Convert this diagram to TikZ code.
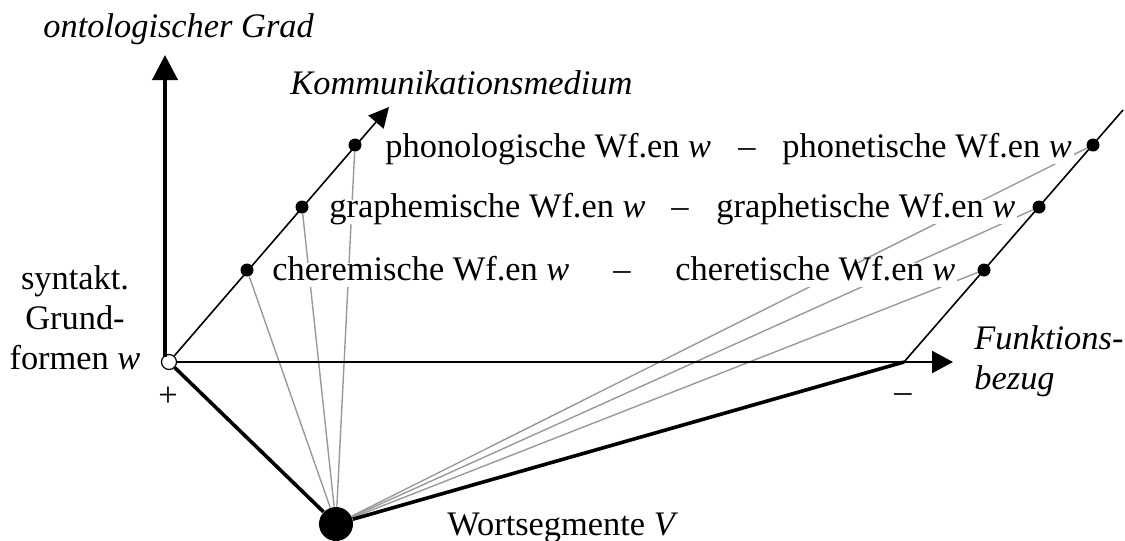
\documentclass[tikz,border=0pt]{standalone}
\usepackage{fontspec}
\setmainfont{Liberation Serif}
\usetikzlibrary{arrows.meta}
\begin{document}
\begin{tikzpicture}[x=0.5pt,y=-0.5pt,
  font=\fontsize{17.2pt}{20pt}\selectfont,
  dot/.style={shape=circle,fill=black,inner sep=0pt,minimum size=6.5pt},
  ray/.style={draw=black!40,line width=0.7pt},
  lbl/.style={fill=white,inner xsep=1pt,inner ysep=1.5pt,text height=0.69em,text depth=0.22em,anchor=base west},
  axlbl/.style={inner sep=0pt,font=\fontsize{17.2pt}{20pt}\selectfont\itshape}]
  \useasboundingbox (0,0) rectangle (1125,541);

  \coordinate (yb) at (165,357);
  \coordinate (ytip) at (165,55);
  \coordinate (xtip) at (953,362);
  \coordinate (ktip) at (389,107);
  \coordinate (R0) at (904,362);
  \coordinate (rend) at (1123,110);
  \node[shape=circle,draw=black,fill=white,inner sep=0pt,minimum size=7.5pt,line width=0.6pt] (O) at (169,362) {};
  \node[dot,minimum size=17pt] (V) at (336,524) {};
  \node[dot] (L1) at (355,145) {};
  \node[dot] (L2) at (302,207) {};
  \node[dot] (L3) at (247,270) {};
  \node[dot] (R1) at (1093,145) {};
  \node[dot] (R2) at (1039,207) {};
  \node[dot] (R3) at (984,270) {};

  \path[ray] (V) edge (L1) edge (L2) edge (L3) edge (R1) edge (R2) edge (R3);

  \node[lbl] (l1) at (383,157) {phonologische Wf.en \textit{w}};
  \node[lbl,anchor=base] (d1) at (747,157) {--};
  \node[lbl] (r1) at (780,157) {phonetische Wf.en \textit{w}};
  \node[lbl] (l2) at (327,217) {graphemische Wf.en \textit{w}};
  \node[lbl,anchor=base] (d2) at (680,217) {--};
  \node[lbl] (r2) at (714,217) {graphetische Wf.en \textit{w}};
  \node[lbl] (l3) at (270,280) {cheremische Wf.en \textit{w}};
  \node[lbl,anchor=base] (d3) at (622,280) {--};
  \node[lbl] (r3) at (673,280) {cheretische Wf.en \textit{w}};

  \draw[line width=2pt,-{Triangle[length=12.5pt,width=12.5pt]}] (yb) -- (ytip);
  \draw[line width=1.2pt,-{Triangle[length=10.5pt,width=11pt]}] (O) -- (xtip);
  \draw[line width=0.8pt,-{Triangle[length=10pt,width=10pt]}] (O) -- (ktip);
  \draw[line width=0.8pt] (R0) -- (rend);
  \draw[line width=1.8pt] (O) -- (V);
  \draw[line width=1.8pt] (V) -- (R0);

  \node[axlbl,anchor=base west] (ograd) at (43,37) {ontologischer Grad};
  \node[axlbl,anchor=base west] (kmed) at (290,94) {Kommunikationsmedium};
  \node[axlbl,anchor=south west,align=left] (fbez) at (974,397) {Funktions-\\bezug};
  \node[inner sep=0pt,anchor=south,align=center] (sgf) at (75,370) {syntakt.\\Grund-\\formen \textit{w}};
  \node (plus) at (168,397) {+};
  \node (minus) at (903,398) {--};
  \node[inner sep=0pt,anchor=base west] (wseg) at (447,535) {Wortsegmente \textit{V}};
\end{tikzpicture}
\end{document}
